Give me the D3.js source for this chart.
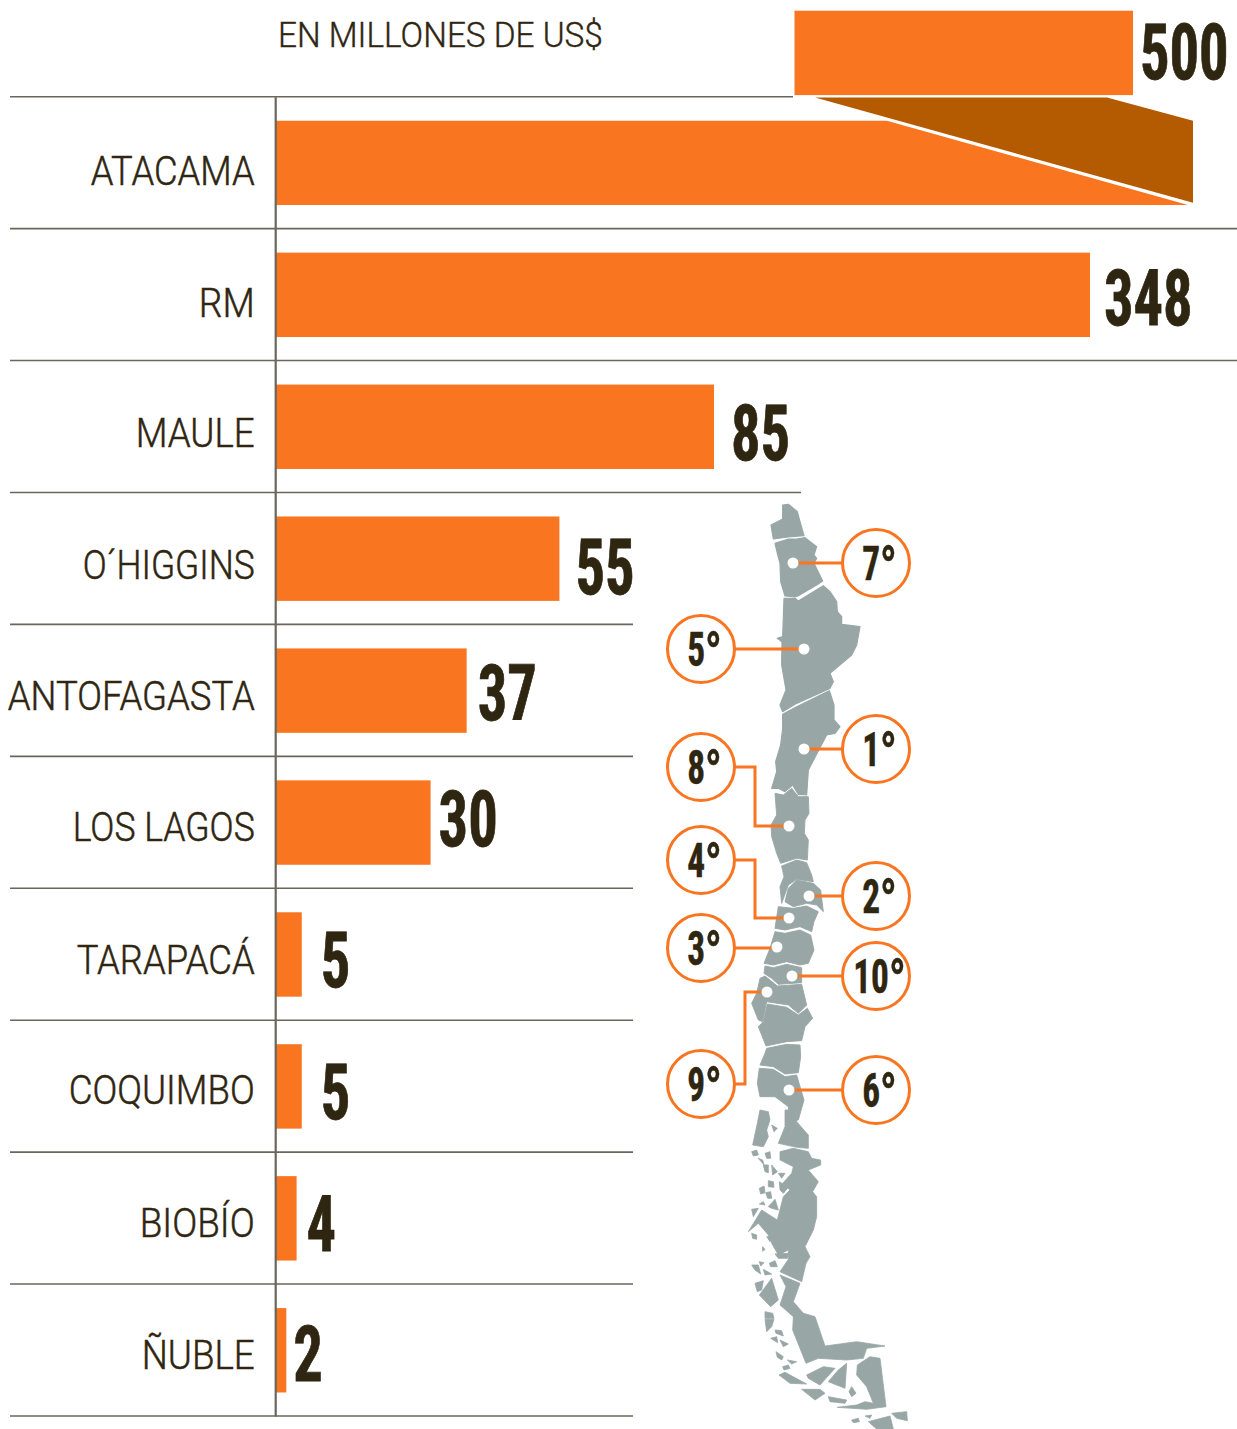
<!DOCTYPE html>
<html><head><meta charset="utf-8">
<script src="https://cdn.jsdelivr.net/npm/d3@7/dist/d3.min.js"></script>
<style>html,body{margin:0;padding:0;background:#fff}svg{display:block}</style>
</head><body><div id="chart"></div>
<script>
// ---------- data ----------
const categories = ["ATACAMA","RM","MAULE","O´HIGGINS","ANTOFAGASTA","LOS LAGOS","TARAPACÁ","COQUIMBO","BIOBÍO","ÑUBLE"];
const values = [500,348,85,55,37,30,5,5,4,2];
const unitTitle = "EN MILLONES DE US$";
const ranks = ["7","5","1","8","4","2","3","10","9","6"];

// ---------- map shapes, in the local units of three traced sheets ----------
const mapNorth = [
 [[368,30],[385,28],[412,50],[420,80],[432,122],[405,124],[385,126],[340,132],[333,90],[368,72]],
 [[345,145],[385,132],[410,132],[435,128],[470,155],[462,180],[470,190],[462,205],[488,258],[470,270],[415,302],[405,306],[375,303],[362,260],[360,205],[352,175]],
 [[372,310],[405,310],[415,318],[490,272],[510,290],[530,320],[532,350],[545,365],[545,388],[600,395],[590,450],[575,480],[510,535],[520,560],[510,580],[480,594],[410,625],[368,650],[360,630],[378,585],[365,510],[366,440],[352,430],[368,425]],
 [[368,658],[410,635],[480,601],[508,587],[522,630],[522,675],[540,695],[525,715],[500,720],[445,825],[440,900],[415,898],[398,870],[375,890],[355,880],[335,880],[350,830],[347,800],[362,750],[368,700]]
];
const mapCentre = [
 [[345,-20],[370,-15],[395,-35],[415,-10],[445,-10],[447,40],[435,60],[433,100],[445,120],[442,180],[410,175],[362,190],[350,160],[335,110],[333,75],[350,45]],
 [[365,198],[410,180],[440,188],[455,225],[460,245],[410,238],[385,255],[365,310],[360,260],[372,230]],
 [[375,305],[385,265],[410,240],[460,250],[482,270],[490,335],[470,315],[440,310],[400,320]],
 [[355,320],[400,325],[440,318],[475,335],[462,365],[455,395],[420,380],[375,390],[345,385]],
 [[345,395],[375,400],[420,390],[452,405],[462,450],[445,490],[420,495],[380,485],[340,495],[312,490],[330,445]],
 [[315,498],[340,503],[380,493],[425,503],[425,548],[355,553],[335,535],[312,520]],
 [[300,535],[315,528],[352,558],[425,553],[440,615],[415,640],[385,615],[320,605],[308,665],[295,660],[275,610],[290,580]],
 [[322,612],[380,622],[415,645],[442,625],[458,655],[435,680],[425,722],[380,725],[318,738],[295,680],[310,665]],
 [[320,745],[380,733],[420,735],[422,770],[415,818],[375,822],[340,800],[300,795],[315,760]],
 [[298,805],[340,808],[375,830],[410,825],[420,860],[432,900],[415,960],[388,960],[385,920],[365,905],[345,890],[300,890],[292,850]]
];
const mapSouth = [
 [[255,0],[295,0],[290,35],[325,75],[325,115],[290,112],[235,100],[255,50]],
 [[180,0],[205,5],[210,30],[200,60],[205,80],[190,110],[158,105],[172,40]],
 [[240,125],[280,115],[325,125],[335,145],[362,150],[362,165],[325,180],[355,215],[338,245],[350,260],[350,320],[340,360],[315,410],[330,440],[318,460],[305,515],[240,485],[265,448],[265,420],[235,435],[215,400],[205,375],[175,340],[145,365],[185,300],[232,330],[250,260],[270,240],[248,220],[275,190],[280,170],[240,150]],
 [[240,495],[300,520],[280,575],[310,610],[345,620],[375,708],[470,695],[555,708],[500,715],[490,745],[440,750],[355,745],[318,760],[278,660],[280,620],[240,585],[258,530]],
 [[440,760],[435,835],[385,815],[415,780]],
 [[472,765],[510,740],[540,745],[558,890],[500,898],[412,892],[470,885],[495,875],[520,880],[500,830],[470,795]],
 [[320,795],[370,770],[405,775],[360,825],[325,805]],
 [[237,795],[255,787],[320,822],[270,820]],
 [[305,838],[360,838],[375,850],[345,870]],
 [[385,860],[440,870],[435,880],[390,875]],
 [[455,830],[468,850],[455,860],[447,845]],
 [[575,910],[620,905],[622,932],[590,925]],
 [[505,935],[570,918],[580,957],[530,957]],
 [[455,930],[475,925],[478,935],[460,938]],
 [[495,918],[515,915],[510,925]],
 [[165,520],[190,512],[185,540],[172,545]],
 [[178,555],[215,505],[235,570],[212,590]],
 [[195,605],[218,610],[222,625],[195,625]],
 [[195,628],[222,628],[215,650],[200,665]],
 [[225,660],[245,662],[250,678],[228,670]],
 [[212,685],[230,680],[233,698]],
 [[240,690],[265,702],[250,710]],
 [[228,725],[250,740],[245,750],[232,742]],
 [[262,750],[290,755],[275,762]],
 [[248,770],[265,765],[270,775],[252,780]],
 [[155,465],[175,465],[182,492],[165,480]],
 [[178,455],[192,458],[182,468]],
 [[208,460],[225,452],[232,470],[212,470]],
 [[190,478],[215,492],[195,495]],
 [[225,432],[265,430],[262,445],[235,445]],
 [[155,370],[170,375],[170,388],[158,385]],
 [[200,380],[215,380],[210,395]],
 [[188,410],[195,418],[188,424]],
 [[155,125],[170,120],[175,135],[160,138]],
 [[195,130],[210,125],[212,145],[200,145]],
 [[175,145],[188,150],[192,165]],
 [[190,165],[205,165],[205,188],[195,185]],
 [[215,165],[232,185],[218,195]],
 [[235,190],[255,190],[245,205]],
 [[178,235],[192,228],[195,248],[182,252]],
 [[205,212],[220,215],[222,232],[205,230]],
 [[197,248],[212,245],[215,265],[203,265]],
 [[155,298],[175,295],[160,320]],
 [[205,290],[225,268],[235,300],[215,295]],
 [[178,282],[190,275],[195,285]],
 [[238,215],[265,232],[250,250],[240,240]],
 [[215,45],[232,55],[222,65]]
];

// ---------- layout and styles ----------
const W = 1237, H = 1429;
const orange = "#F97520", brown = "#B45A00", ink = "#2F2612", rule = "#6A665C", land = "#98A6A6";
const numberFont = "'Liberation Sans Narrow','Roboto Condensed',sans-serif";
const labelFont = "Roboto,'Open Sans',sans-serif";
const ruleEnds = [793,1237,1237,801,633,633,633,633,633,633,633];
const labelBaselineDy = [22,22,20,21,20,19,20,18,19,19];
const labelWidths = [164,56,119,172,247,182,178,186,115,113];
const valueGap = [0,14,17,16,11,8,19,19,10,7];
const valueDy = [0,29,32,35,29,23,32,32,32,30];
const rankCentres = [[876,563],[701,649],[876,749],[701,767],[701,860],[876,896],[701,948],[876,976],[701,1084],[876,1090]];
const rankDots = [[793,563],[804,649],[804,749],[789,826],[789,918],[809,896],[777,947],[792,976],[767,992],[789,1090]];
const rankElbows = [[],[],[],[755],[755],[],[],[],[745],[]];

const svg = d3.select("#chart").append("svg").attr("width",W).attr("height",H).attr("viewBox",[0,0,W,H]);

// broken value axis: true scale up to 85, then compressed
const x = d3.scaleLinear().domain([0,85,348,500]).range([276,714,1090,1192.5]);
const y = d3.scaleBand().domain(categories).range([96.7,1416]);
const barInset = 24, barH = 84.4;

// grid rules
const rows = d3.range(categories.length+1);
svg.append("g").selectAll("line").data(rows).join("line")
  .attr("x1",10).attr("x2",i=>ruleEnds[i])
  .attr("y1",i=>96.7+i*y.bandwidth()).attr("y2",i=>96.7+i*y.bandwidth())
  .attr("stroke",rule).attr("stroke-width",1.6);

// bars (all but the cut one)
const rowsData = categories.map((c,i)=>({c,v:values[i],i}));
svg.append("g").selectAll("rect").data(rowsData.slice(1)).join("rect")
  .attr("x",x(0)).attr("y",d=>y(d.c)+barInset)
  .attr("width",d=>x(d.v)-x(0)).attr("height",barH).attr("fill",orange);

// the cut bar: it folds up into the box at the top
const yTop = y(categories[0]), xEnd = x(values[0]);
const poly = d3.line();
svg.append("path").attr("fill",orange).attr("d",poly([
  [x(0),yTop+barInset],[xEnd-305.5,yTop+barInset],[xEnd-4.5,yTop+barInset+barH],[x(0),yTop+barInset+barH]])+"Z");
svg.append("path").attr("fill",brown).attr("d",poly([
  [xEnd-377.5,yTop+0.8],[xEnd-85.5,yTop+0.8],[xEnd+0.5,yTop+barInset],[xEnd+0.5,yTop+barInset+82]])+"Z");
svg.append("rect").attr("x",xEnd-398).attr("y",yTop-86).attr("width",338.5).attr("height",84.4)
  .attr("fill",orange);

// category axis
const axis = svg.append("g").attr("transform",`translate(${x(0)-0.8},0)`)
  .call(d3.axisLeft(y).tickSize(0).tickSizeOuter(0));
axis.select(".domain").attr("stroke",rule).attr("stroke-width",2.2);
axis.selectAll(".tick text")
  .attr("font-family",labelFont).attr("font-weight",300).attr("font-size",41)
  .attr("fill",ink).attr("stroke",ink).attr("stroke-width",0.5)
  .attr("text-anchor","end").attr("dy",null)
  .attr("x",-20.5)
  .attr("y",(c,i)=>labelBaselineDy[i])
  .attr("textLength",(c,i)=>labelWidths[i])
  .attr("lengthAdjust","spacingAndGlyphs");

// unit title
svg.append("text").text(unitTitle)
  .attr("transform",`translate(278,47) scale(0.953,1)`)
  .attr("font-family",labelFont).attr("font-weight",300).attr("font-size",35)
  .attr("fill",ink).attr("stroke",ink).attr("stroke-width",0.4);

// value labels
function bigNumber(sel,size){
  sel.attr("font-family",numberFont).attr("font-weight",700).attr("font-size",size)
     .attr("fill",ink).attr("stroke",ink).attr("stroke-width",0.8);
}
const numScale = 0.75;
svg.append("g").selectAll("text").data(rowsData.slice(1)).join("text")
  .text(d=>d.v)
  .attr("transform",d=>`translate(${x(d.v)+valueGap[d.i]},${y(d.c)+y.bandwidth()/2+valueDy[d.i]+1}) scale(${numScale},1)`)
  .call(bigNumber,78);
svg.append("text").text(values[0])
  .attr("transform",`translate(${xEnd-52.5},79) scale(${numScale},1)`)
  .call(bigNumber,78);

// map
const sheet = (ox,oy)=>{const sx=d3.scaleLinear().domain([0,3]).range([ox,ox+1]),sy=d3.scaleLinear().domain([0,3]).range([oy,oy+1]);
  return d3.line().x(p=>sx(p[0])).y(p=>sy(p[1]));};
const gMap = svg.append("g").attr("fill",land).attr("stroke",land).attr("stroke-linejoin","round");
[[mapNorth,660,495,1.2],[mapCentre,660,800,0.9],[mapSouth,700,1110,0.8]].forEach(([shapes,ox,oy,sw])=>{
  const l = sheet(ox,oy);
  gMap.append("g").attr("stroke-width",sw).selectAll("path").data(shapes).join("path").attr("d",d=>l(d)+"Z");
});

// rank callouts
const callouts = ranks.map((r,i)=>({r,c:rankCentres[i],d:rankDots[i],e:rankElbows[i]}));
const gCall = svg.append("g");
gCall.selectAll("path").data(callouts).join("path")
  .attr("fill","none").attr("stroke",orange).attr("stroke-width",3)
  .attr("d",o=>{
    const pts = o.e.length ? [o.c,[o.e[0],o.c[1]],[o.e[0],o.d[1]],o.d] : [o.c,[o.d[0],o.c[1]],o.d];
    return d3.line()(pts);
  });
gCall.selectAll("circle.dot").data(callouts).join("circle").attr("class","dot")
  .attr("cx",o=>o.d[0]).attr("cy",o=>o.d[1]).attr("r",5.5).attr("fill","#fff");
gCall.selectAll("circle.ring").data(callouts).join("circle").attr("class","ring")
  .attr("cx",o=>o.c[0]).attr("cy",o=>o.c[1]).attr("r",33.5)
  .attr("fill","#fff").attr("stroke",orange).attr("stroke-width",3);
const rankText = gCall.selectAll("text").data(callouts).join("text")
  .attr("text-anchor","middle")
  .attr("transform",o=>`translate(${o.c[0]+3.5},${o.c[1]+17}) scale(0.72,1)`)
  .attr("font-family",numberFont).attr("font-weight",700).attr("font-size",49)
  .attr("fill",ink).attr("stroke",ink).attr("stroke-width",0.5);
rankText.append("tspan").text(o=>o.r);
rankText.append("tspan").text("°").attr("font-size",60).attr("dy",8);
</script></body></html>
